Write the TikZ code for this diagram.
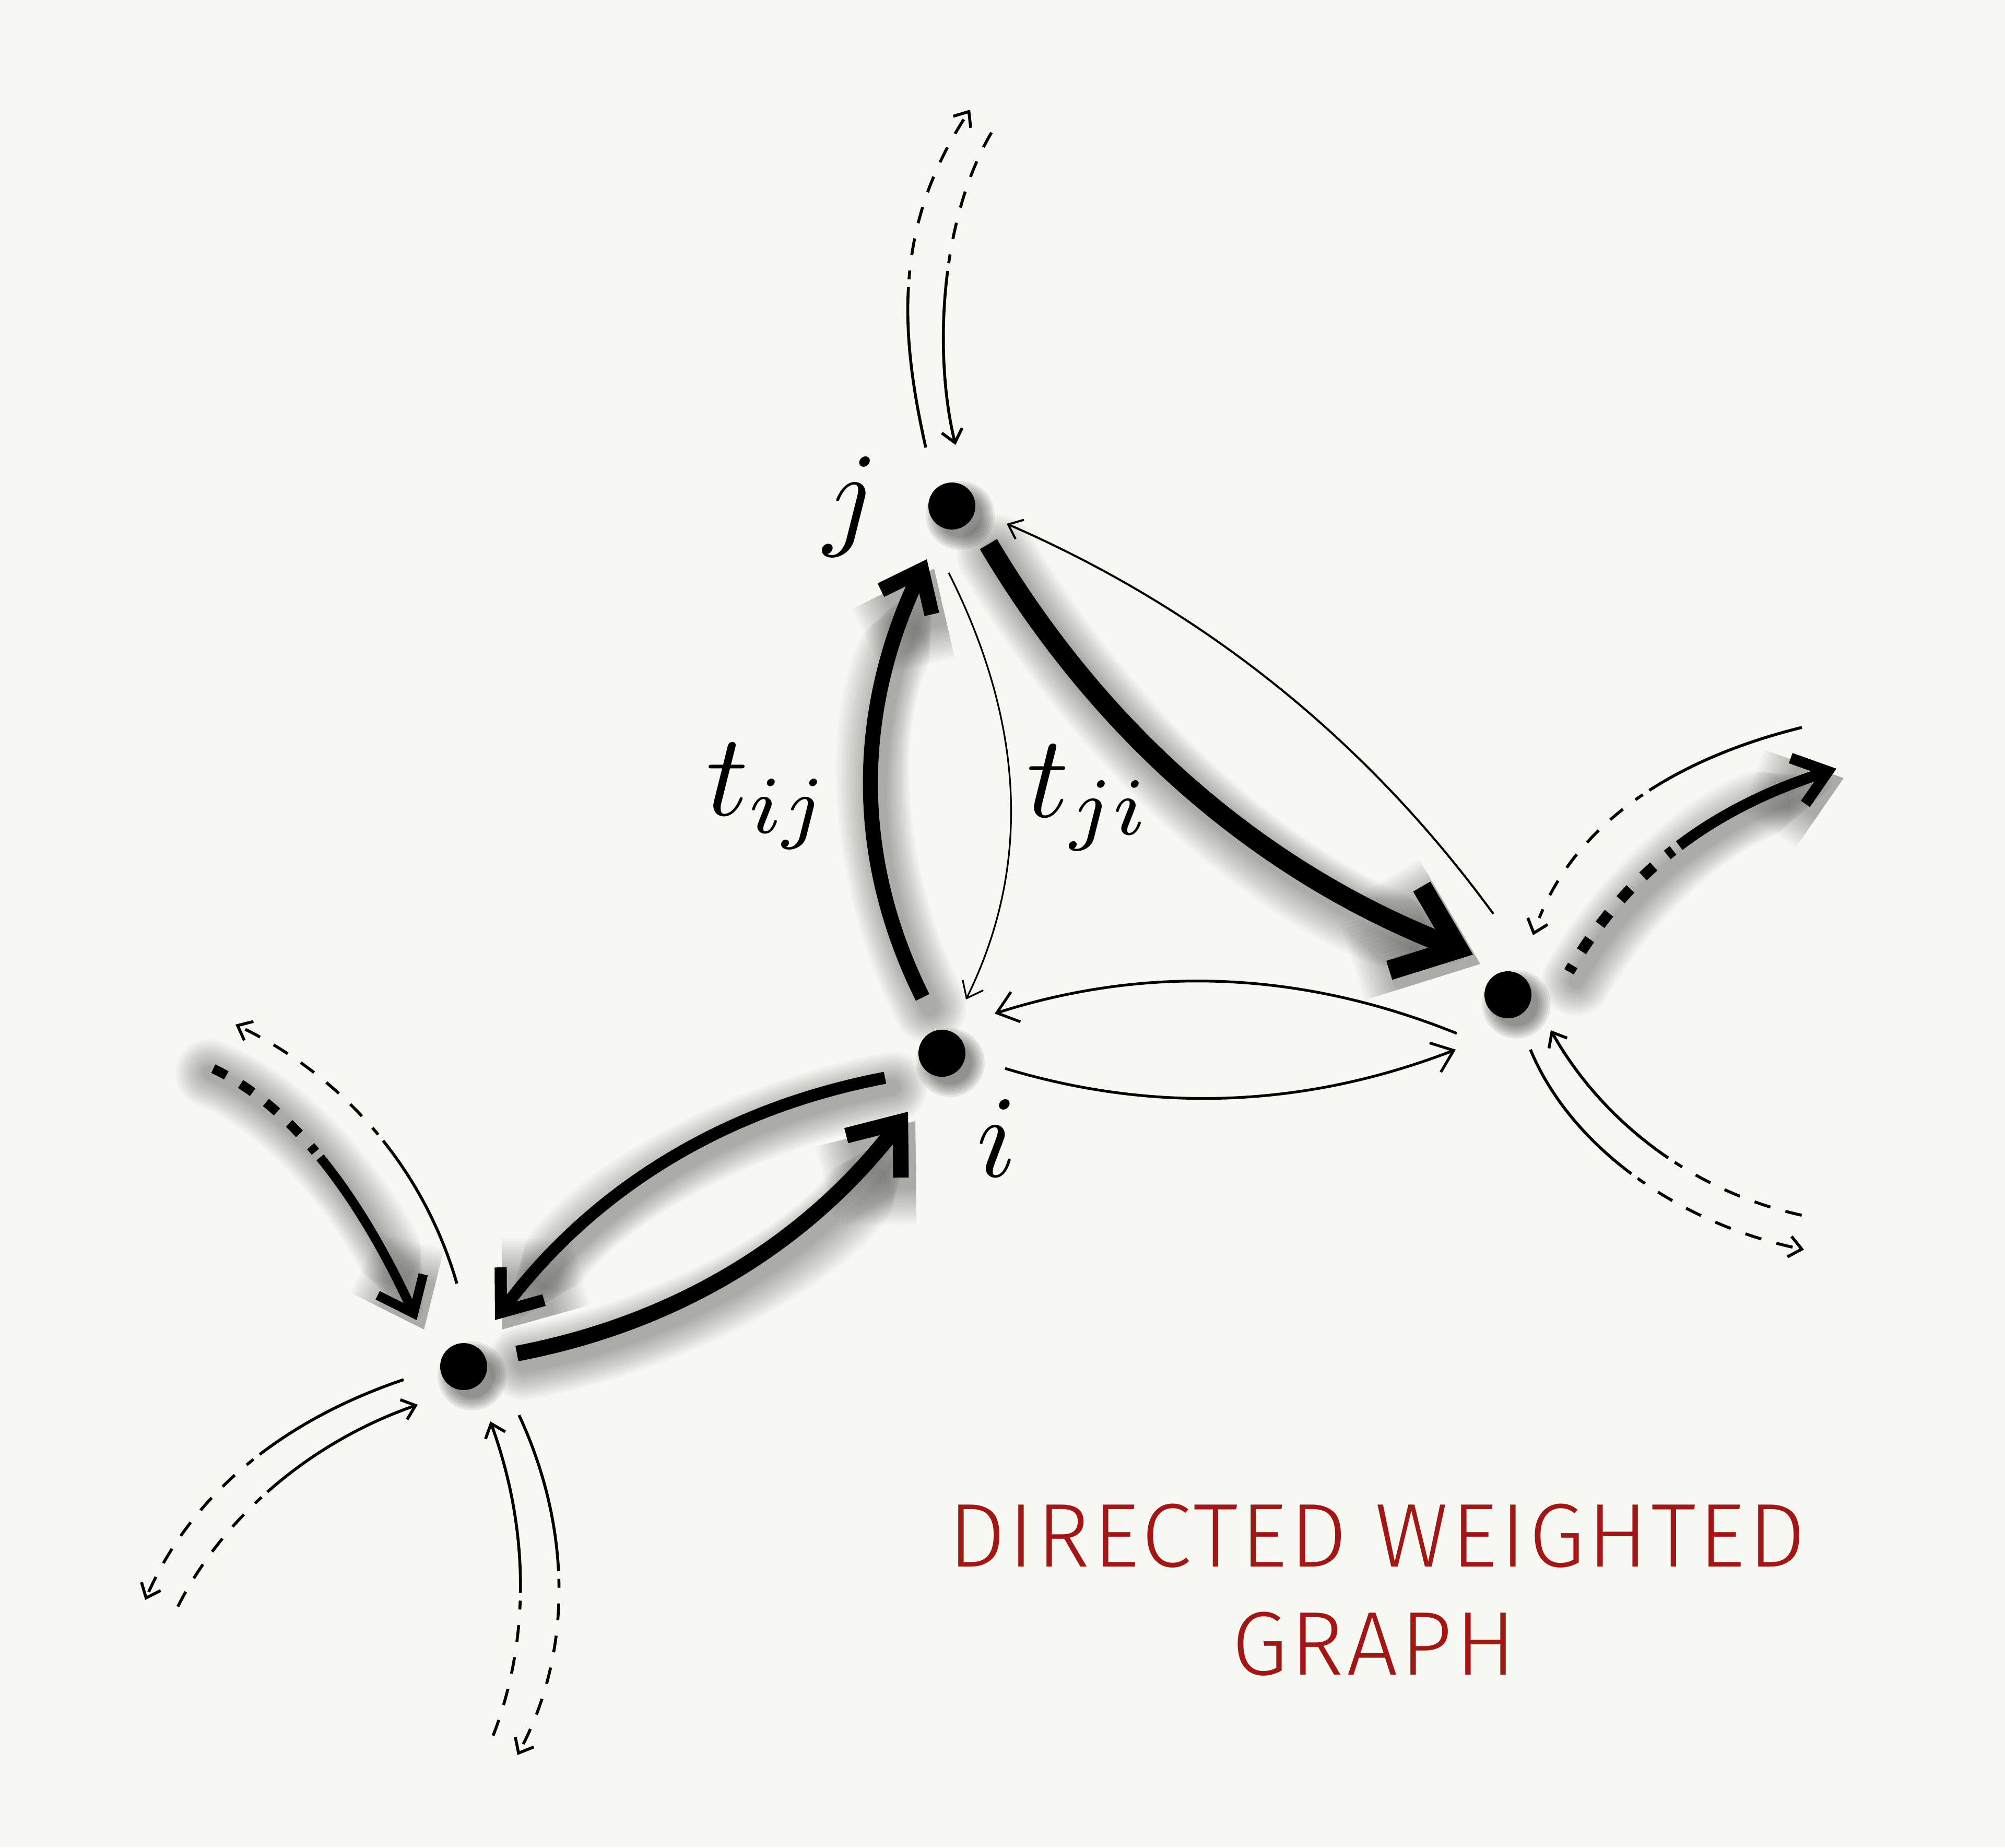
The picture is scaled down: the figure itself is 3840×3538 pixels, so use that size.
\documentclass[tikz,border=0pt]{standalone}
\usepackage{fontspec}
\usepackage{graphicx}
\usetikzlibrary{arrows.meta}
\newfontfamily\titlefont{Fira Sans Light}[LetterSpace=3.2]
\definecolor{bgc}{RGB}{247,248,242}
\definecolor{titlered}{RGB}{163,22,22}
\tikzset{
  dot/.style={circle, fill=black, minimum size=22.5pt, inner sep=0pt, outer sep=0pt},
  mathlbl/.style={inner sep=0pt},
  titletext/.style={font=\titlefont\fontsize{43.3}{52}\selectfont, text=titlered, inner sep=0pt},
  tipthinE/.style={-{Straight Barb[length=6pt,width=10pt]}},
  tipthinS/.style={{Straight Barb[length=6pt,width=10pt]}-},
  tipJI/.style={-{Straight Barb[length=7pt,width=11pt]}},
  tipmed/.style={-{Straight Barb[length=9.5pt,width=15pt]}},
  tipIJ/.style={-{Straight Barb[length=17pt,width=27pt]}},
  tipJK/.style={-{Straight Barb[length=27pt,width=43pt]}},
  tipLI/.style={-{Straight Barb[length=21pt,width=33pt]}},
  tipIL/.style={-{Straight Barb[length=17pt,width=26pt]}},
  tipLin/.style={{Straight Barb[length=15pt,width=24pt]}-},
  tipKout/.style={-{Straight Barb[length=15pt,width=23pt]}},
  stubline/.style={line width=1.4pt},
  fadesolid/.style={dash pattern=on #1 off 3.75pt on 4.25pt off 7.5pt on 8pt off 7.5pt on 8pt off 7.5pt on 8pt off 7.5pt on 8pt off 7.5pt on 8pt off 7.5pt on 8pt off 7.5pt on 8pt off 7.5pt on 8pt off 7.5pt on 8pt off 7.5pt},
  thickfade/.style={dash pattern=on #1 off 3.5pt on 3.5pt off 8pt on 7pt off 8pt on 7pt off 8pt on 7pt off 8pt on 7pt off 8pt on 7pt off 8pt on 7pt off 8pt},
  fadefirstthin/.style={dash pattern=on 0pt off 7pt on 4.5pt off 7.5pt on 8pt off 7.5pt on 8pt off 7.5pt on 8pt off 7.5pt on 8pt off 7.5pt on 4.25pt off 3.75pt on 400pt},
  fadefirstthick/.style={dash pattern=on 3.5pt off 8pt on 7pt off 8.5pt on 7pt off 8.5pt on 7pt off 8.5pt on 7pt off 8.5pt on 3.5pt off 3.75pt on 400pt},
  shadelayer/.style={draw=black, opacity=0.022, line cap=round, line join=round}
}
\newcommand\dropshade[3]{%
  \begin{scope}[transform canvas={shift={(3.5pt,-4.5pt)}}]
    \foreach \ex in {28,26,24,22,20,18,16,14,12,10,8,6,4,2}{%
      \draw[#2, shadelayer, line width=#1pt+\ex pt] #3;}
  \end{scope}}
\begin{document}
\begin{tikzpicture}[x=0.25pt, y=-0.25pt]
\fill[bgc] (0,0) rectangle (3840,3538);
\useasboundingbox (0,0) rectangle (3840,3538);

% node centres
\coordinate (pJ) at (1823,969);
\coordinate (pI) at (1804,2017);
\coordinate (pK) at (2888,1905);
\coordinate (pL) at (888,2617);

% dot shadows
\foreach \n in {pJ,pI,pK,pL}{
  \foreach \r in {16.5,15.5,14.5,13.5,12.5,11.5,10.5}{
    \fill[black, opacity=0.07] ([shift={(16,18)}]\n) circle[radius=\r pt];
  }
}

% ---------- edges between nodes ----------
% I -> J
\coordinate (IJs) at (1767,1910); \coordinate (IJe) at (1775,1071);
\dropshade{7.2}{tipIJ}{(IJs) .. controls (1631,1637) and (1639,1357) .. (IJe)}
\draw[tipIJ, line width=7.2pt] (IJs) .. controls (1631,1637) and (1639,1357) .. (IJe);
% J -> I
\coordinate (JIs) at (1817,1097); \coordinate (JIe) at (1850,1914);
\draw[tipJI, line width=0.8pt] (JIs) .. controls (1964,1389) and (1975,1661) .. (JIe);
% J -> K
\coordinate (JKs) at (1893,1042); \coordinate (JKe) at (2821,1828);
\dropshade{9.5}{tipJK}{(JKs) .. controls (2112,1411) and (2421,1673) .. (JKe)}
\draw[tipJK, line width=9.5pt] (JKs) .. controls (2112,1411) and (2421,1673) .. (JKe);
% K -> J
\coordinate (KJs) at (2860,1750); \coordinate (KJe) at (1928,1003);
\draw[tipthinE, line width=1pt] (KJs) .. controls (2617,1417) and (2307,1168) .. (KJe);
% K -> I
\coordinate (KIs) at (2790,1979); \coordinate (KIe) at (1905,1941);
\draw[tipmed, line width=1.3pt] (KIs) .. controls (2495,1860) and (2200,1847) .. (KIe);
% I -> K
\coordinate (IKs) at (1925,2046); \coordinate (IKe) at (2788,2010);
\draw[tipmed, line width=1.3pt] (IKs) .. controls (2212,2133) and (2500,2121) .. (IKe);
% L -> I
\coordinate (LIs) at (990,2592); \coordinate (LIe) at (1739,2129);
\dropshade{7.5}{tipLI}{(LIs) .. controls (1299,2533) and (1548,2378) .. (LIe)}
\draw[tipLI, line width=7.5pt] (LIs) .. controls (1299,2533) and (1548,2378) .. (LIe);
% I -> L
\coordinate (ILs) at (1695,2064); \coordinate (ILe) at (948,2528);
\dropshade{5.8}{tipIL}{(ILs) .. controls (1386,2123) and (1137,2277) .. (ILe)}
\draw[tipIL, line width=5.8pt] (ILs) .. controls (1386,2123) and (1137,2277) .. (ILe);

% ---------- stubs ----------
% at J
\coordinate (Ja1) at (1773,857); \coordinate (Ja2) at (1858,210);
\draw[tipthinE, stubline, fadesolid=77.5pt] (Ja1) .. controls (1722,630) and (1712,430) .. (Ja2);
\coordinate (Jb1) at (1830,852); \coordinate (Jb2) at (1906,242);
\draw[tipthinS, stubline, fadesolid=82pt] (Jb1) .. controls (1790,690) and (1795,420) .. (Jb2);
% at K
\coordinate (Kc1) at (2936,1791); \coordinate (Kc2) at (3451,1393);
\draw[tipthinS, stubline, fadefirstthin] (Kc1) .. controls (3010,1570) and (3220,1450) .. (Kc2);
\coordinate (Kd1) at (3005,1861); \coordinate (Kd2) at (3517,1472);
\dropshade{5.2}{tipKout}{(Kd1) .. controls (3120,1660) and (3290,1545) .. (Kd2)}
\draw[tipKout, line width=5.2pt, fadefirstthick] (Kd1) .. controls (3120,1660) and (3290,1545) .. (Kd2);
\coordinate (Ke1) at (2931,2010); \coordinate (Ke2) at (3455,2393);
\draw[tipthinE, stubline, fadesolid=77.5pt] (Ke1) .. controls (3010,2200) and (3220,2345) .. (Ke2);
\coordinate (Kf1) at (2970,1973); \coordinate (Kf2) at (3470,2331);
\draw[tipthinS, stubline, fadesolid=82pt] (Kf1) .. controls (3070,2150) and (3250,2290) .. (Kf2);
% at L
\coordinate (Lg1) at (798,2528); \coordinate (Lg2) at (387,2037);
\dropshade{4.5}{tipLin}{(Lg1) .. controls (706,2328) and (573,2113) .. (Lg2)}
\draw[tipLin, line width=4.5pt, thickfade=85pt] (Lg1) .. controls (706,2328) and (573,2113) .. (Lg2);
\coordinate (Lh1) at (875,2458); \coordinate (Lh2) at (451,1962);
\draw[tipthinE, stubline, fadesolid=77.5pt] (Lh1) .. controls (811,2237) and (658,2061) .. (Lh2);
\coordinate (Li1) at (773,2642); \coordinate (Li2) at (278,3064);
\draw[tipthinE, stubline, fadesolid=78pt] (Li1) .. controls (554,2716) and (370,2852) .. (Li2);
\coordinate (Lj1) at (800,2690); \coordinate (Lj2) at (334,3090);
\draw[tipthinS, stubline, fadesolid=82pt] (Lj1) .. controls (591,2763) and (420,2910) .. (Lj2);
\coordinate (Lk1) at (939,2722); \coordinate (Lk2) at (940,3335);
\draw[tipthinS, stubline, fadesolid=82pt] (Lk1) .. controls (1015,2931) and (1016,3147) .. (Lk2);
\coordinate (Ll1) at (994,2710); \coordinate (Ll2) at (991,3361);
\draw[tipthinE, stubline, fadesolid=77.5pt] (Ll1) .. controls (1092,2920) and (1100,3160) .. (Ll2);

% ---------- dots ----------
\node[dot] (J) at (pJ) {};
\node[dot] (I) at (pI) {};
\node[dot] (K) at (pK) {};
\node[dot] (L) at (pL) {};

% ---------- labels ----------
\node[mathlbl] (lj) at (1630,970) {\scalebox{5.6}{$j$}};
\node[mathlbl] (li) at (1909,2180) {\scalebox{5.6}{$i$}};
\node[mathlbl] (ltij) at (1472,1525) {\scalebox{5.6}{$t_{ij}$}};
\node[mathlbl] (ltji) at (2086,1528) {\scalebox{5.6}{$t_{ji}$}};

% ---------- title ----------
\node[titletext, anchor=base] (title1) at (2637,3000) {DIRECTED WEIGHTED};
\node[titletext, anchor=base] (title2) at (2631,3207) {GRAPH};
\end{tikzpicture}
\end{document}
